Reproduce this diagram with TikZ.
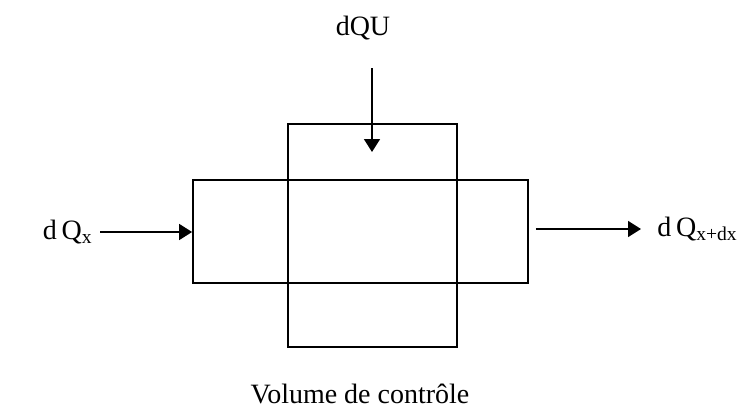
\documentclass[tikz,border=0pt]{standalone}
\usepackage{fontspec}
\setmainfont{Liberation Serif}
\usetikzlibrary{arrows.meta, positioning}

\begin{document}
\begin{tikzpicture}[x=0.5pt, y=0.5pt, every node/.style={font=\fontsize{14}{16}\selectfont, inner sep=0pt},
    flux/.style={-{Triangle[length=6.5pt, width=8pt]}, line width=0.8pt},
    volbox/.style={draw, line width=0.9pt}]
                    \useasboundingbox (0,0) rectangle (745,408);
                    \node[volbox, minimum width=167.5pt, minimum height=51.5pt] (hbox) at (360.5,176.5) {};
                    \node[volbox, minimum width=84.5pt, minimum height=111.5pt] (vbox) at (372.5,172.5) {};
                    \node (dqu) at (363,380) {dQU};
                    \coordinate (qin) at (372,256);
                    \draw[flux, shorten <=14pt] (qin |- dqu.south) -- (qin);
                    \node[anchor=east] (dqx) at (93,176) {d\,Q\textsubscript{x}};
                    \draw[flux, shorten <=3.5pt] (dqx.east) -- (dqx.east -| hbox.west);
                    \node[anchor=west] (dqxdx) at (657,179) {d\,Q\textsubscript{x+dx}};
                    \draw[flux, shorten <=3.5pt, shorten >=8pt] (hbox.east |- dqxdx.west) -- (dqxdx.west);
                    \node[anchor=base] (caption) at (360,5) {Volume de contrôle};
                \end{tikzpicture}
\end{document}
